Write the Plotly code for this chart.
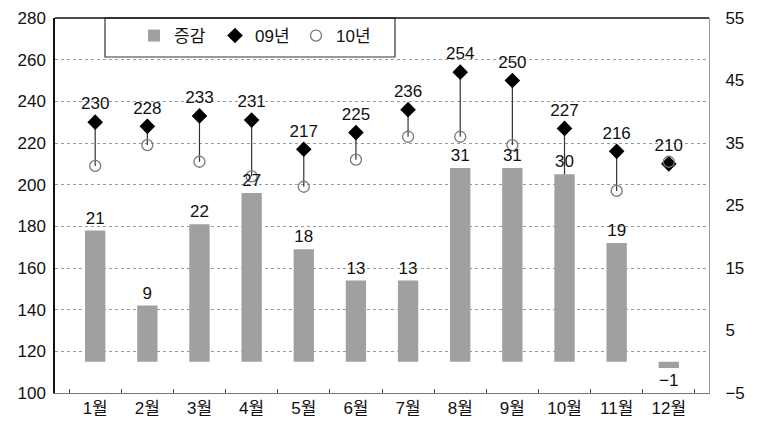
import plotly.graph_objects as go

months = ["1월", "2월", "3월", "4월", "5월", "6월", "7월", "8월", "9월", "10월", "11월", "12월"]
change = [21, 9, 22, 27, 18, 13, 13, 31, 31, 30, 19, -1]
y09 = [230, 228, 233, 231, 217, 225, 236, 254, 250, 227, 216, 210]
y10 = [209, 219, 211, 204, 199, 212, 223, 223, 219, 197, 197, 211]
left_ticks = [100, 120, 140, 160, 180, 200, 220, 240, 260, 280]
right_ticks = [-5, 5, 15, 25, 35, 45, 55]

FONT = "Liberation Sans, Arial, Noto Sans CJK KR, sans-serif"
OFF = 8  # page body margin
W, H = 766 - OFF, 428 - OFF
L, R, T, B = 55 - OFF, 57, 18 - OFF, 35
PW = W - L - R
PH = H - T - B

cx, cy = [], []
for m, a, b in zip(months, y09, y10):
    cx += [m, m, None]
    cy += [a, b, None]

fig = go.Figure()
fig.add_trace(go.Bar(
    x=months, y=change, name="증감", yaxis="y2",
    marker=dict(color="#a0a0a0", line=dict(width=0)),
    width=0.39,
    text=[str(v).replace("-", "−") for v in change], textposition="outside",
    textfont=dict(size=17, color="#111"), cliponaxis=False,
))
fig.add_trace(go.Scatter(
    x=cx, y=cy, mode="lines", showlegend=False, hoverinfo="skip",
    line=dict(color="#333", width=1.2),
))
fig.add_trace(go.Scatter(
    x=months, y=y09, name="09년", mode="markers+text",
    marker=dict(symbol="diamond", size=12, color="#000"),
    text=[str(v) for v in y09], textposition="top center",
    textfont=dict(size=17, color="#111"), cliponaxis=False,
))
fig.add_trace(go.Scatter(
    x=months, y=y10, name="10년", mode="markers",
    marker=dict(symbol="circle-open", size=11, color="#777", line=dict(width=1.3)),
))

def px_x(p):
    return (p - OFF - L) / PW

def px_y(p):
    return 1 - (p - OFF - T) / PH

fig.update_layout(
    width=W, height=H,
    margin=dict(l=L, r=R, t=T, b=B),
    paper_bgcolor="white", plot_bgcolor="white",
    font=dict(family=FONT, size=17, color="#111"),
    legend=dict(
        orientation="h", x=px_x(134), y=px_y(18), xanchor="left", yanchor="top",
        borderwidth=0, bgcolor="rgba(0,0,0,0)",
        traceorder="normal", font=dict(size=17),
        entrywidth=36, itemwidth=30,
    ),
    xaxis=dict(
        type="category", showgrid=False, showline=True, linecolor="#777", linewidth=1,
        ticks="inside", tickson="boundaries", ticklen=4, tickcolor="#555",
        tickfont=dict(size=17), automargin=False,
    ),
    yaxis=dict(
        range=[100, 280], tickvals=left_ticks, showgrid=True, gridcolor="#999",
        griddash="dot", gridwidth=1, showline=True, linecolor="#111", linewidth=1.5,
        ticks="", zeroline=False, tickfont=dict(size=17), automargin=False,
        ticklabelstandoff=4, ticklabeloverflow="allow",
    ),
    yaxis2=dict(
        range=[-5, 55], tickvals=right_ticks, overlaying="y", side="right", showgrid=False,
        showline=True, linecolor="#999", linewidth=1, zeroline=False,
        ticks="", tickfont=dict(size=17), ticklabelstandoff=12, automargin=False,
        ticklabeloverflow="allow",
    ),
    shapes=[
        dict(type="line", xref="paper", yref="paper", x0=0, x1=1, y0=1, y1=1,
             line=dict(color="#111", width=1.5)),
        dict(type="rect", xref="paper", yref="paper", x0=px_x(105), x1=px_x(395),
             y0=px_y(57), y1=px_y(18), line=dict(color="#333", width=1.2),
             fillcolor="white", layer="below"),
    ],
)

fig.write_html("out.html")
